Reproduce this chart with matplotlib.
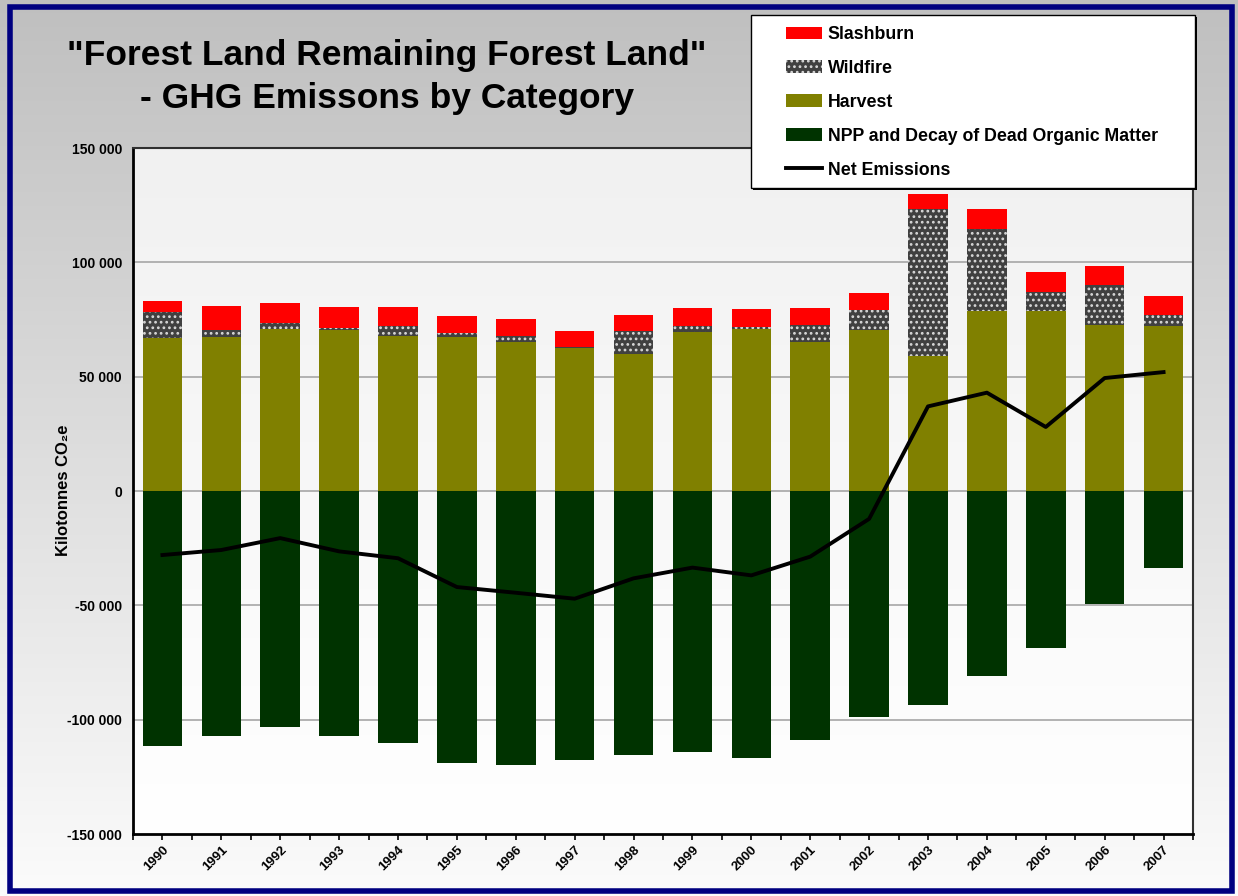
import numpy as np
import matplotlib
matplotlib.use("Agg")
import matplotlib.pyplot as plt
from matplotlib.patches import Patch, Rectangle
from matplotlib.lines import Line2D
from matplotlib.ticker import FuncFormatter, FixedLocator

plt.rcParams['font.family'] = ['Liberation Sans', 'DejaVu Sans']
plt.rcParams['font.weight'] = 'bold'
plt.rcParams['hatch.linewidth'] = 1.2

years = ['1990', '1991', '1992', '1993', '1994', '1995', '1996', '1997', '1998',
         '1999', '2000', '2001', '2002', '2003', '2004', '2005', '2006', '2007']

# kilotonnes CO2e
npp = [-111400, -107000, -103000, -107000, -110000, -118800, -119700, -117600, -115300,
       -114000, -116600, -108700, -98700, -93400, -80800, -68500, -49300, -33800]
harvest = [67000, 67300, 70800, 70500, 67900, 67500, 65300, 62700, 59900,
           69500, 71000, 65300, 70500, 59200, 78800, 78800, 72700, 72300]
wildfire = [11300, 3100, 2700, 800, 4400, 1500, 2600, 400, 10100,
            2800, 800, 7300, 8800, 64000, 35600, 8100, 17400, 4700]
slashburn = [4800, 10500, 8700, 9200, 8200, 7500, 7300, 6900, 7000,
             7700, 7800, 7400, 7300, 6700, 8900, 8900, 8300, 8300]
net = [-28000, -25800, -20600, -26400, -29400, -42000, -44500, -47100, -38200,
       -33500, -36900, -28700, -12200, 37000, 43000, 28000, 49400, 52000]

W, H = 1238, 896
fig = plt.figure(figsize=(W / 100, H / 100), dpi=100)

# figure background gradient
bg = fig.add_axes([0, 0, 1, 1], zorder=-10)
grad = np.linspace(0, 1, 256).reshape(-1, 1)
top_c = np.array([0.75, 0.75, 0.75])
bot_c = np.array([0.985, 0.985, 0.985])
img = top_c + (bot_c - top_c) * grad
bg.imshow(img[:, None, :].repeat(2, axis=1), aspect='auto', extent=[0, 1, 0, 1])
bg.set_xlim(0, 1); bg.set_ylim(0, 1)
bg.axis('off')
# navy border
fig.patches.append(Rectangle((9.5 / W, 5.5 / H), (W - 16) / W, (H - 13) / H,
                             transform=fig.transFigure, fill=False,
                             edgecolor='#000080', linewidth=4.0, zorder=5))

ax = fig.add_axes([133 / W, 62 / H, (1193 - 133) / W, (834 - 148) / H])
x = np.arange(len(years))
bw = 0.67

# plot area gradient
pgrad = np.linspace(0, 1, 256).reshape(-1, 1)
pt = np.array([0.945, 0.945, 0.945]); pb = np.array([1.0, 1.0, 1.0])
pimg = pt + (pb - pt) * pgrad
ax.imshow(pimg[:, None, :].repeat(2, axis=1), aspect='auto',
          extent=[-0.5, len(years) - 0.5, -150000, 150000],
          origin='upper', zorder=0)

for yv in [-100000, -50000, 0, 50000, 100000]:
    ax.axhline(yv, color='#a6a6a6', lw=1.2, zorder=1)

ax.bar(x, npp, bw, color='#003300', zorder=2)
ax.bar(x, harvest, bw, color='#808000', zorder=2)
b_h = np.array(harvest)
ax.bar(x, wildfire, bw, bottom=b_h, color='#404040', hatch='...',
       edgecolor='#d8d8d8', linewidth=0, zorder=2)
ax.bar(x, slashburn, bw, bottom=b_h + np.array(wildfire), color='#ff0000', zorder=2)
ax.plot(x, net, color='black', lw=2.8, zorder=3)

ax.set_xlim(-0.5, len(years) - 0.5)
ax.set_ylim(-150000, 150000)
ax.set_yticks(np.arange(-150000, 150001, 50000))
ax.yaxis.set_major_formatter(FuncFormatter(lambda v, p: f"{int(v):,}".replace(',', ' ')))
ax.tick_params(axis='y', length=0, pad=8, labelsize=10)
ax.set_xticks(x)
ax.set_xticklabels(years, rotation=45, ha='right', rotation_mode='anchor', fontsize=9.5)
ax.xaxis.set_minor_locator(FixedLocator(np.arange(-0.5, len(years), 1.0)))
ax.tick_params(axis='x', which='both', length=4, width=1.2, direction='out', pad=3)
for t in ax.get_xticklabels():
    t.set_fontweight('bold')
for t in ax.get_yticklabels():
    t.set_fontweight('bold')

for s in ['left', 'bottom']:
    ax.spines[s].set_color('black'); ax.spines[s].set_linewidth(2)
for s in ['top', 'right']:
    ax.spines[s].set_color('#303030'); ax.spines[s].set_linewidth(1.5)

fig.text(63 / W, 1 - 490 / H, 'Kilotonnes CO\u2082e', rotation=90, ha='center', va='center',
         fontsize=12, fontweight='bold')

fig.text(387 / W, 1 - 65 / H, '"Forest Land Remaining Forest Land"', ha='center',
         va='baseline', fontsize=25.5, fontweight='bold')
fig.text(387 / W, 1 - 108 / H, '- GHG Emissons by Category', ha='center',
         va='baseline', fontsize=25.5, fontweight='bold')

# legend box
fig.patches.append(Rectangle((753 / W, 1 - 190 / H), 444 / W, 173 / H, transform=fig.transFigure,
                             facecolor='black', edgecolor='none', zorder=8))
fig.patches.append(Rectangle((751 / W, 1 - 188 / H), 444 / W, 173 / H, transform=fig.transFigure,
                             facecolor='white', edgecolor='black', linewidth=1.0, zorder=9))
handles = [Patch(facecolor='#ff0000', edgecolor='none'),
           Patch(facecolor='#404040', hatch='...', edgecolor='#d8d8d8', linewidth=0),
           Patch(facecolor='#808000', edgecolor='none'),
           Patch(facecolor='#003300', edgecolor='none'),
           Line2D([0], [0], color='black', lw=2.8)]
labels = ['Slashburn', 'Wildfire', 'Harvest', 'NPP and Decay of Dead Organic Matter', 'Net Emissions']
leg = fig.legend(handles, labels, loc='upper left', bbox_to_anchor=(786 / W, 1 - 26 / H),
                 frameon=False, prop={'size': 12.8, 'weight': 'bold'}, handlelength=2.05,
                 handleheight=0.7, labelspacing=0.95, handletextpad=0.3, borderpad=0,
                 borderaxespad=0)
leg.set_zorder(10)

fig.savefig('out.png', dpi=100)
